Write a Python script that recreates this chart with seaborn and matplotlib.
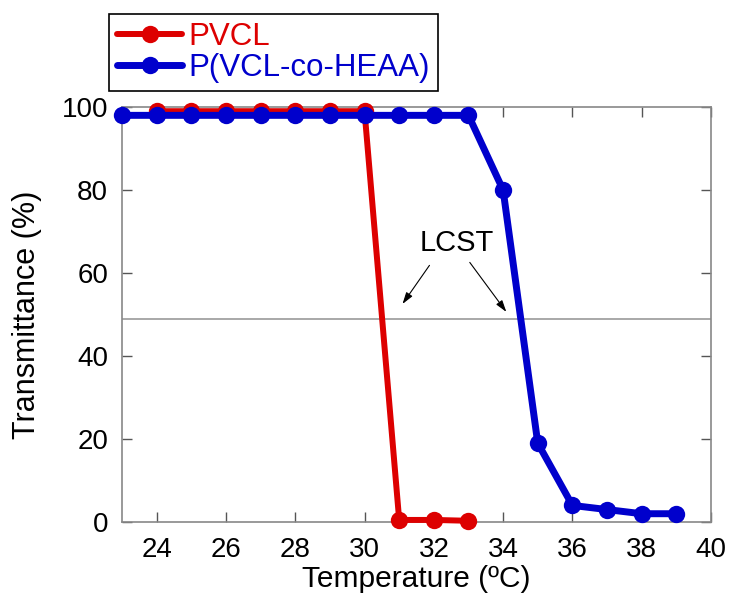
import numpy as np
import pandas as pd
import matplotlib as mpl
mpl.use("Agg")
import matplotlib.pyplot as plt
import seaborn as sns

# data
pvcl_temp = [24, 25, 26, 27, 28, 29, 30, 31, 32, 33]
pvcl_trans = [99, 99, 99, 99, 99, 99, 99, 0.5, 0.5, 0.3]
copo_temp = [23, 24, 25, 26, 27, 28, 29, 30, 31, 32, 33, 34, 35, 36, 37, 38, 39]
copo_trans = [98, 98, 98, 98, 98, 98, 98, 98, 98, 98, 98, 80, 19, 4, 3, 2, 2]
lcst_level = 49
x_ticks = [24, 26, 28, 30, 32, 34, 36, 38, 40]
y_ticks = [0, 20, 40, 60, 80, 100]

sns.set_style("ticks")
plt.rcParams['font.family'] = ['Liberation Sans', 'DejaVu Sans']
plt.rcParams['text.color'] = 'black'
plt.rcParams['axes.labelcolor'] = 'black'
plt.rcParams['xtick.labelcolor'] = 'black'
plt.rcParams['ytick.labelcolor'] = 'black'

red = "#DD0000"
blue = "#0000CC"

fig = plt.figure(figsize=(7.32, 5.97), dpi=100)
ax = fig.add_axes([0.1667, 0.1256, 0.8046, 0.6951])

ax.axhline(lcst_level, color="#999999", lw=1.2, zorder=1)

sns.lineplot(x=pvcl_temp, y=pvcl_trans, ax=ax, color=red, lw=4.3,
             marker="o", markersize=12.5, markeredgewidth=0, label="PVCL",
             zorder=3, clip_on=False)
sns.lineplot(x=copo_temp, y=copo_trans, ax=ax, color=blue, lw=5,
             marker="o", markersize=12.5, markeredgewidth=0, label="P(VCL-co-HEAA)",
             zorder=4, clip_on=False)

ax.set_xlim(23, 40)
ax.set_ylim(0, 100)
ax.set_xticks(x_ticks)
ax.set_yticks(y_ticks)
ax.tick_params(direction="in", length=7.5, width=1, color="#555555",
               labelsize=20, pad=10, top=True, right=True, labeltop=False, labelright=False)
ax.tick_params(axis="x", pad=11)
for s in ax.spines.values():
    s.set_color("#888888")
    s.set_linewidth(1.2)

ax.set_xlabel("Temperature (ºC)", fontsize=21.5, labelpad=1)
ax.set_ylabel("Transmittance (%)", fontsize=22, labelpad=14)

# LCST annotation
ax.text(32.67, 67.2, "LCST", fontsize=21, ha="center", va="center")
arrow = dict(arrowstyle="-|>,head_length=0.7,head_width=0.22", color="black", lw=0.8)
ax.annotate("", xy=(31.05, 52.0), xytext=(31.92, 62.4), arrowprops=arrow)
ax.annotate("", xy=(34.14, 50.1), xytext=(32.99, 63.1), arrowprops=arrow)

handles, labels = ax.get_legend_handles_labels()
ax.get_legend().remove()
leg = fig.legend(handles, labels, loc="upper left",
                 bbox_to_anchor=(109 / 732, 1 - 14 / 597), borderaxespad=0,
                 fontsize=22.5, handlelength=2.1, handletextpad=0.2,
                 labelspacing=0.05, borderpad=0.25, fancybox=False,
                 frameon=True, edgecolor="black", framealpha=1)
leg.get_frame().set_linewidth(1.2)
for t, c in zip(leg.get_texts(), [red, blue]):
    t.set_color(c)

fig.savefig("out.png", dpi=100)
